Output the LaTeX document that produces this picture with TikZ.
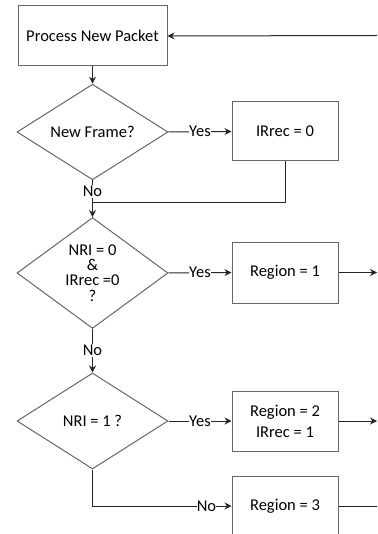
\documentclass[tikz,border=0pt]{standalone}
\usepackage{fontspec}
\setmainfont{Carlito}
\usetikzlibrary{shapes.geometric,arrows.meta}

\tikzset{
  block/.style={draw=black!60, line width=1pt, rectangle, minimum width=106pt,
    minimum height=60pt, inner sep=0pt, align=center, font=\fontsize{16.5}{21}\selectfont},
  decision/.style={draw=black!60, line width=1pt, diamond, minimum width=151pt,
    inner sep=0pt, align=center, font=\fontsize{16.5}{15.3}\selectfont},
  link/.style={draw=black!85, line width=1pt, >={Stealth[length=7pt,width=7pt]}},
  lbl/.style={fill=white, inner xsep=0.3pt, inner ysep=1pt, font=\fontsize{16.5}{16}\selectfont}
}

\begin{document}
\begin{tikzpicture}[x=1pt, y=-1pt]
  \useasboundingbox (0,0) rectangle (377,534);
  \clip (0,0) rectangle (377,534);
  %%%%%%%%%%%%%%%%%%%%%%%%%%%%%%%%%%%%%%%%%%%%%%
  %%% Left column: packet and the three tests
  %%%%%%%%%%%%%%%%%%%%%%%%%%%%%%%%%%%%%%%%%%%%%%
  \node[block, minimum width=149pt] (packet) at (92.5,36) {Process New Packet};
  \node[decision, minimum height=91pt] (newframe) at (92.5,132) {New Frame?};
  \node[decision, minimum height=102pt] (nrizero) at (92.5,273) {NRI = 0\\ \&\\ IRrec =0\\ ?};
  \node[decision, minimum height=96pt] (nrione) at (92.5,421) {NRI = 1 ?};
  %%%%%%%%%%%%%%%%%%%%%%%%%%%%%%%%%%%%%%%%%%%%%%
  %%% Right column: what gets set
  %%%%%%%%%%%%%%%%%%%%%%%%%%%%%%%%%%%%%%%%%%%%%%
  \node[block, minimum height=59pt] (irrec) at (285,131.5) {IRrec = 0};
  \node[block, minimum height=61pt] (regone) at (285,272.5) {Region = 1};
  \node[block] (regtwo) at (285,421) {Region = 2\\ IRrec = 1};
  \node[block] (regthree) at (285,506) {Region = 3};

  % loose ends at the right border
  \coordinate (back) at (377,35.5);
  \coordinate (outone) at (377,272.5);
  \coordinate (outtwo) at (377,421);
  \coordinate (outthree) at (380,506);
  \coordinate (join) at (92.5,203);

  % main flow down the left
  \draw[link, ->] (back) -- (packet.east);
  \draw[link, ->] (packet.south) -- (newframe.north);
  \draw[link] (newframe.south) -- node[lbl] {No} (join);
  \draw[link] (irrec.south) |- (join);
  \draw[link, ->] (join) -- (nrizero.north);
  \draw[link, ->] (nrizero.south) -- node[lbl] {No} (nrione.north);
  \draw[link, ->] (nrione.south) |- node[lbl, pos=0.91] {No} (regthree.west);

  % yes branches
  \draw[link, ->] (newframe.east) -- node[lbl] {Yes} (irrec.west);
  \draw[link, ->] (nrizero.east) -- node[lbl] {Yes} (regone.west);
  \draw[link, ->] (nrione.east) -- node[lbl] {Yes} (regtwo.west);

  % on to the next stage
  \foreach \src/\dst in {regone/outone, regtwo/outtwo}
    \draw[link, ->] (\src.east) -- (\dst);
  \draw[link] (regthree.east) -- (outthree);
\end{tikzpicture}
\end{document}
